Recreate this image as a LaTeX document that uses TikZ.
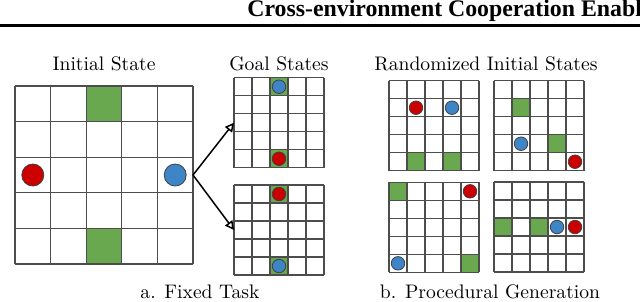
\documentclass[tikz,border=0pt]{standalone}
\usepackage{fontspec}
\usepackage{tikz}
\usetikzlibrary{arrows.meta}
\newfontfamily\headerfont{Liberation Serif}[BoldFont={Liberation Serif Bold}]
\definecolor{goalgreen}{HTML}{6AA84F}
\definecolor{agentred}{HTML}{CC0000}
\definecolor{agentblue}{HTML}{3D85C6}
\definecolor{gridgray}{HTML}{4D4D4D}
\tikzset{cellline/.style={draw=gridgray,line width=.6pt},
 goalcell/.style={fill=goalgreen},
 agent/.style={circle,draw=black!75,line width=.4pt,inner sep=0pt},
 redagent/.style={agent,fill=agentred},
 blueagent/.style={agent,fill=agentblue},
 transition/.style={-{Triangle[open,length=4.5pt,width=4.5pt]},line width=.75pt},
 caption/.style={text=black,font=\fontsize{9.8}{12}\selectfont,anchor=base},
 header/.style={text=black,font=\headerfont\bfseries\fontsize{11.9}{14}\selectfont,
 anchor=base west,inner sep=0pt}}
\newcommand{\gridworld}[6]{%
 \foreach \gx/\gy in {#4} \fill[goalcell] ({\gx*#2},{\gy*#2}) rectangle ++(#2,#2);
 \foreach \k in {0,...,5} {
  \draw[cellline] ({\k*#2},0) -- ({\k*#2},{5*#2});
  \draw[cellline] (0,{\k*#2}) -- ({5*#2},{\k*#2});}
 \coordinate (#1w) at (0,{2.5*#2});
 \coordinate (#1e) at ({5*#2},{2.5*#2});
 \foreach \ax/\ay in {#5}
  \node[redagent,minimum size=#3] (#1red) at ({(\ax+.5)*#2},{(\ay+.5)*#2}) {};
 \foreach \ax/\ay in {#6}
  \node[blueagent,minimum size=#3] (#1blue) at ({(\ax+.5)*#2},{(\ay+.5)*#2}) {};}

\begin{document}
\begin{tikzpicture}[x=.5pt,y=-.5pt]
 \clip (0,0) rectangle (640,301);
 \node[header] (title) at (247,16.5) {Cross-environment Cooperation Enable};
 \draw[line width=1.25pt] (0,25.4) -- (640,25.4);
 \begin{scope}[shift={(15,86)}]
  \gridworld{init}{35.6}{11pt}{2/0,2/4}{0/2}{4/2}
 \end{scope}
 \begin{scope}[shift={(234,77.7)}]
  \gridworld{goala}{18}{6.75pt}{2/0,2/4}{2/4}{2/0}
 \end{scope}
 \begin{scope}[shift={(234,185)}]
  \gridworld{goalb}{18}{6.75pt}{2/0,2/4}{2/0}{2/4}
 \end{scope}
 \begin{scope}[shift={(389,80.7)}]
  \gridworld{randa}{18}{6.75pt}{1/4,3/4}{1/1}{3/1}
 \end{scope}
 \begin{scope}[shift={(494,80.7)}]
  \gridworld{randb}{18}{6.75pt}{1/1,3/3}{4/4}{1/3}
 \end{scope}
 \begin{scope}[shift={(389,182.3)}]
  \gridworld{randc}{18}{6.75pt}{0/0,4/4}{4/0}{0/4}
 \end{scope}
 \begin{scope}[shift={(494,182)}]
  \gridworld{randd}{18}{6.75pt}{0/2,2/2}{4/2}{3/2}
 \end{scope}
 \draw[transition] (inite) -- (goalaw);
 \draw[transition] (inite) -- (goalbw);
 \node[caption] (initlabel) at (104,70.7) {Initial State};
 \node[caption] (goallabel) at (279,70.7) {Goal States};
 \node[caption] (randlabel) at (486,70.7) {Randomized Initial States};
 \node[caption] (fixedlabel) at (200,298) {a. Fixed Task};
 \node[caption] (proclabel) at (490,298) {b. Procedural Generation};
\end{tikzpicture}
\end{document}
